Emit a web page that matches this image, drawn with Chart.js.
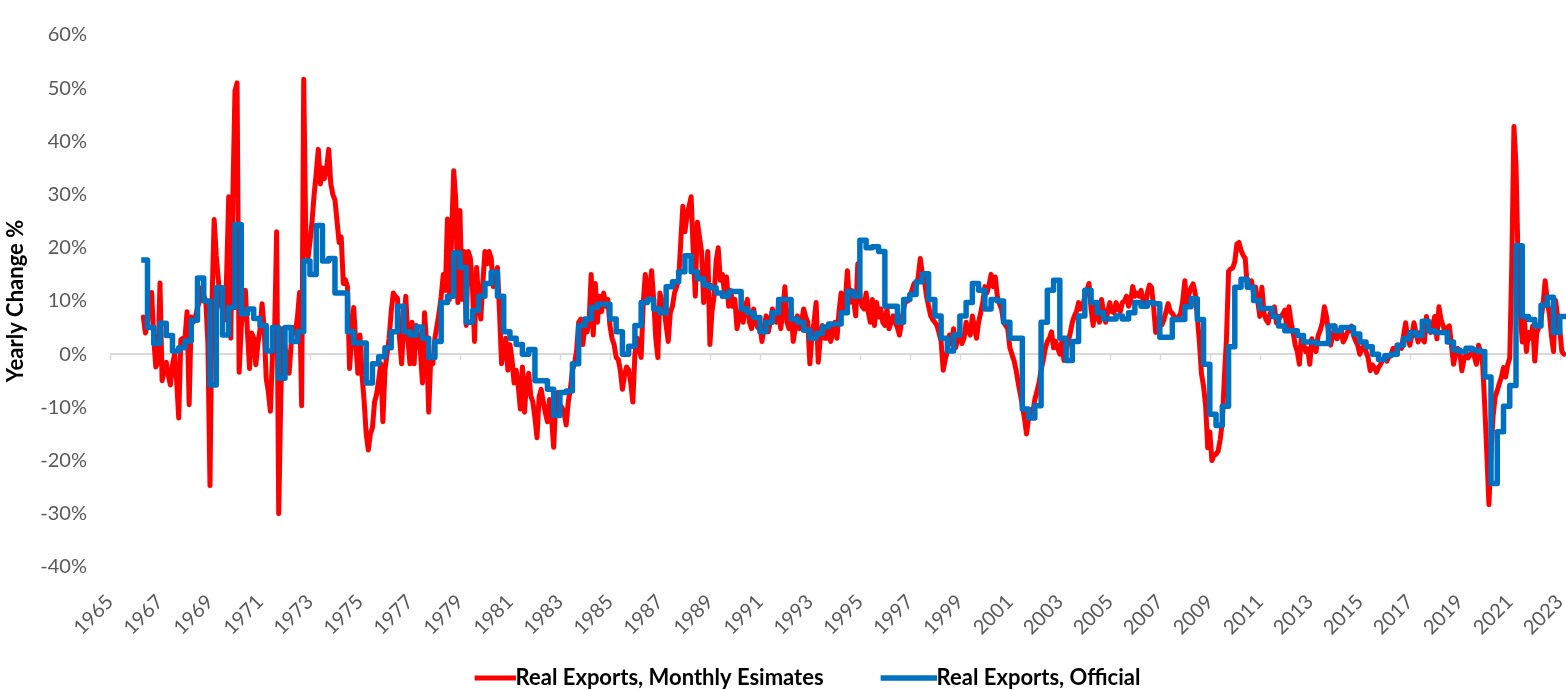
<!DOCTYPE html>
<html>
<head>
<meta charset="utf-8">
<script src="https://cdn.jsdelivr.net/npm/chart.js@4.4.1/dist/chart.umd.min.js"></script>
<style>
html,body{margin:0;padding:0;background:#fff;}
#wrap{width:1566px;height:690px;position:relative;}
</style>
</head>
<body>
<div id="wrap"><canvas id="c"></canvas></div>
<script>
// ---------- DATA ----------
const seriesNames = ['Real Exports, Monthly Esimates', 'Real Exports, Official'];
const yAxisTitle = 'Yearly Change %';
const xTickYears = [1965,1967,1969,1971,1973,1975,1977,1979,1981,1983,1985,1987,1989,1991,1993,1995,1997,1999,2001,2003,2005,2007,2009,2011,2013,2015,2017,2019,2021,2023];
const yTickValues = [-40,-30,-20,-10,0,10,20,30,40,50,60];

// Monthly estimates (yoy %), first month = May 1966
const redStartYear = 1966, redStartMonth = 4;
const red1960s = [
  7, 4, 6, 10, 11.6, 3, -2.4, -1.5,
  13.4, -5, -3, -1.5, -4, -5.8, -2, 0, -5, -12, 2.7, 3,
  3, 8, -9.5, 7, 6, 7, 8.8, 10, 12.5, 11, 10, 2,
  -24.7, 10, 25.3, 18.6, 14, 10, 8.2, 6.4, 15, 29.6, 3, 30
];
const red1970s = [
  49.5, 51, -3.4, 5, 10, 12, 4, -2.7, 4, 3, -2, 2,
  4.6, 9.5, 5, -4.6, -7, -10.7, 0, 3.6, 23, -30, -8, 4.8,
  1, 0, -3.6, 2, 5, 4.2, 7, 11.6, -9.7, 51.7, 22, 18,
  21, 25, 30, 34, 38.5, 32, 35, 33, 35, 38.5, 32, 30,
  29, 25, 21, 22, 13.3, 14, 12.7, -2.7, 3, 8.8, 2, -3.6,
  3.6, -4, -8.8, -15, -18, -15, -13.8, -9, -7.5, -4.8, -1.8, -12.7,
  -3, 0, 3, 8, 11.5, 10.9, 10.5, 3, -1.8, 5.4, 10.9, 3,
  -1.8, 6, -1.8, 5.4, 3, 0.6, -5.4, 7.8, 2, -10.9, -0.6, -1.8,
  3, 5.4, 7.8, 10.9, 15, 12, 25.4, 10.3, 22, 34.5, 29, 9.7,
  27, 10.3, 19.3, 5.4, 19.3, 18, 12.7, 2.4, 16.3, 10, 6.6, 13.3
];
const red1980s = [
  19.3, 17, 19.3, 18, 12.7, 14, 16.3, 7.8, -1.8, 1, 3, -3,
  1.8, -1, -5.4, -3, -6, -10.3, -2.4, -10.9, -5, -3.6, -7.8, -9,
  -12, -15.7, -8, -6.6, -9, -11, -12.7, -8.5, -12, -17.5, -9, -7.2,
  -9.6, -10, -11, -13.3, -9, -6.6, -3, -1.8, 0.6, 6, 6.6, 1.8,
  5.4, 4.2, 6, 15, 3.6, 13.3, 6, 10.9, 8, 11.5, 9, 10.3,
  5.4, 3, 1.8, -0.6, -1, -3, -6.6, -4, -2.4, -3, -5.4, -9,
  0, 3, 1, -0.6, 9.7, 15, 10.3, 12, 15.7, 10.3, 3, -0.6,
  11.5, 10, 8.5, 5.4, 2.4, 7.8, 9, 11.5, 12.7, 14, 21, 27.8,
  23, 26, 27.8, 29.6, 19.3, 10.9, 24.8, 22, 19.3, 9.7, 13.9, 19.3,
  1.8, 8, 10.9, 17.5, 20, 13.9, 15, 11.5, 14.5, 9, 12, 9
];
const red1990s = [
  10.3, 4.8, 7, 8.5, 6, 9, 10.3, 6, 4.8, 8.5, 6, 5,
  5.4, 2.4, 5, 7.2, 4.2, 6, 8.5, 7, 6, 9.7, 4.8, 8,
  12.7, 6, 4.8, 8.5, 2.4, 5, 7.2, 4.8, 6, 8.5, 7, 6,
  -1.8, 3.6, 6, 9.7, -1.5, 3, 5.4, 3, 3, 5.4, 2.4, 4,
  6, 3, 8, 11.5, 8.5, 10, 15.7, 9.7, 12, 10, 7.2, 17,
  10.9, 9, 8.5, 11.5, 8, 6, 10.3, 5.4, 9.7, 7, 8.5, 6,
  5.4, 8.5, 4.8, 6, 7.2, 6, 5, 3.6, 6, 8.5, 10.3, 10,
  10.9, 12, 13.3, 12.7, 14.5, 18, 15, 13.9, 10.9, 9, 7.2, 6.5,
  6, 5.4, 4, 2.4, -3, -1, 0.6, 3.6, 2, 4.8, 1.2, 3,
  3.6, 2, 3, 6, 4.5, 3.6, 7.2, 5, 3, 6, 7.8, 9.7
];
const red2000s = [
  12.7, 11.5, 13, 15, 12.7, 14.5, 10.9, 9.5, 8.5, 6, 5.4, 4.8,
  1.2, 0, -1.2, -3, -5.4, -7.5, -9.7, -12, -15, -12, -10.9, -11,
  -8.5, -7, -5.4, -3, -1.2, 1, 2.4, 3, 4.2, 1.2, 2.4, 1,
  0, 2.4, -1.2, 0.5, 2.4, 4, 6, 7.2, 8, 9.7, 8.5, 9,
  10.9, 12, 13.3, 8.5, 5.4, 9.7, 7, 6, 10.3, 8, 6, 8,
  9.7, 8, 7.8, 9.7, 8.5, 8, 9.7, 10, 10.9, 9, 10, 12.7,
  10.9, 11.5, 10.9, 12, 10, 9, 11.5, 13, 12.6, 9, 4.1, 5,
  7.1, 5.5, 6.5, 8, 9.5, 8, 7.7, 7, 6.5, 7, 7.7, 10,
  13.8, 8.9, 11.4, 12.5, 13.2, 11.4, 7.1, 2.3, -3.7, -6, -9.8, -17.6,
  -14.6, -20, -19, -18.8, -18.2, -16, -12.8, -4.3, 2.9, 15.6, 16, 16.2
];
const red2010s = [
  17.4, 20.7, 21, 19.5, 18.6, 18, 12.6, 13, 13.8, 11.4, 12.6, 10,
  7.1, 12.6, 7.7, 6.5, 5.9, 7.7, 8, 8.9, 5.9, 6.5, 7.1, 7.5,
  8.3, 4.7, 8.9, 6, 4.1, 1.7, 0.5, -1.9, 3.5, 2, 0.5, 1,
  -1.9, 2.9, 1.5, 0.5, 3.5, 4.5, 5.9, 8.9, 7.1, 4, 1.7, 3.5,
  5.3, 2.9, 3.5, 4.7, 2.3, 3, 4.1, 4.5, 5.3, 3.5, 2.5, 1.7,
  0, 1, 1.7, 0.5, -0.7, -3.1, -2, -2.5, -3.4, -2.5, -1.9, -1,
  -0.7, -1.3, -0.5, 0, 1.1, 0.5, 1.7, 1.5, 1.1, 3.5, 5.9, 3,
  1.7, 3.5, 5.9, 4, 2.3, 4.1, 3, 2.3, 7.1, 5, 4.1, 5.5,
  7.1, 2.9, 8.9, 6.5, 5.3, 4.1, 5, 5.3, 1.7, -1.9, 0, 1.1,
  0.5, -3.1, -1, -0.1, -0.7, 0, 0.5, -0.5, -1.9, 1.7, 0.5, -1.9
];
const red2020s = [
  -9.8, -18.8, -28.3, -18.8, -11.6, -8, -6.8, -5.5, -4.3, -2.5, -4.3, -2,
  -0.7, 17.4, 42.8, 35.5, 17.4, 8.3, 2.3, 6.5, 0.5, 4.1, 3, 5.3,
  -1.3, 4.1, 5, 6.5, 9.5, 13.8, 10, 7.7, 3.5, 0.5, 10.1, 7,
  4.7, 0.5, 0
];

// Official quarterly (yoy %), first quarter = Q2 1966
const blueStartYear = 1966, blueStartQuarter = 1;
const blue1960s = [17.7, 5, 2,  5.8, 3.5, 0.6, 1.2,  2.5, 6.4, 14.3, 10,  -5.8, 12.5, 3.6, 8.8];
const blue1970s = [24.4, 7.6, 8.5, 6.7,  5.4, 0.6, 5, -4.5,  5, 2.4, 4.2, 17.5,  15, 24.2, 17.5, 18,
  11.5, 11.5, 4.2, 2.1,  2.1, -5.4, -1.8, -0.5,  1.2, 4.2, 9, 4.2,  3.6, 5.1, 3, -0.6,
  2.4, 9.7, 10.9, 19,  16.3, 6, 8.2, 10.9];
const blue1980s = [13.3, 15.4, 10.9, 4.2,  3, 1.8, 0, 0.9,  -5, -5, -6.6, -11.5,  -7.2, -6.9, -1.8, 5.4,
  6.6, 8.8, 9.4, 9.4,  6.6, 4.2, 0, 1.5,  5.4, 9.7, 10.3, 8.5,  7.8, 12.7, 13.6, 15.5,
  18.5, 15.5, 14.2, 13,  12.5, 11.5, 10.9, 11.8];
const blue1990s = [11.8, 8.5, 7.8, 6.9,  4.2, 6, 7.8, 10.3,  10.3, 6.6, 6, 4.5,  3, 3.9, 5.1, 5.7,
  5.7, 7.8, 11.8, 10.9,  21.4, 20, 20.2, 19.3,  9, 9, 6, 10.3,  11.2, 13.6, 15.1, 10.3,
  7.2, 3, 0.6, 3.6,  7.2, 9.7, 13.3, 12];
const blue2000s = [8.5, 10.3, 10, 6,  3, 3, -10.3, -12,  -9.7, 6, 12, 13.9,  3, -1.2, 2.4, 7.2,
  12, 9.7, 7.8, 6.6,  6.6, 7.2, 6.6, 7.8,  9.7, 9, 9.7, 9.5,  3.2, 3.2, 6.5, 6.5,
  8.9, 10.4, 6.5, -1.9,  -11.3, -13.4, -9.8, 1.4];
const blue2010s = [12.6, 14.1, 12.6, 10.1,  8.6, 8.6, 7.1, 5.3,  4.4, 4.4, 3.5, 2.3,  2.3, 2, 2, 5.3,
  4.4, 5, 5, 3.8,  2.3, 1.4, 0, -1,  -0.3, 0, 1.7, 2.9,  4.1, 3.5, 6.2, 4.4,
  4.1, 4.1, 2.3, 0.8,  0.5, 1.1, 0.8, 0.5];
const blue2020s = [-4.3, -24.3, -14.6, -9.8,  -5.9, 20.4, 7.1, 6.5,  5.3, 9.2, 10.7, 4.1,  7.1];

// ---------- BUILD ----------
const redValues = [].concat(red1960s, red1970s, red1980s, red1990s, red2000s, red2010s, red2020s);
const blueValues = [].concat(blue1960s, blue1970s, blue1980s, blue1990s, blue2000s, blue2010s, blue2020s);
const redPoints = redValues.map((v, i) => ({ x: redStartYear + (redStartMonth + i) / 12, y: v }));
const bluePoints = blueValues.map((v, i) => ({ x: blueStartYear + (blueStartQuarter + i) / 4, y: v }));
// close the last quarterly step at the end of that quarter
bluePoints.push({ x: blueStartYear + (blueStartQuarter + blueValues.length) / 4, y: blueValues[blueValues.length - 1] });
const xMax = blueStartYear + (blueStartQuarter + blueValues.length) / 4;

const FONT = 'Lato, "Open Sans", sans-serif';
const GRAY = '#595959';
const AXIS_GRAY = '#D9D9D9';
const RED = '#FF0000';
const BLUE = '#0070C0';
const LEGEND_FONT_SIZE = 22;
const LEGEND_BOX = 40;

// legend key: a line that ends right where the label text begins (Excel style)
function legendKey(color, lineLen, lineWidth) {
  const w = LEGEND_BOX + LEGEND_FONT_SIZE; // image centred on the key box, right edge = text start
  const c = document.createElement('canvas');
  c.width = w; c.height = 10;
  const g = c.getContext('2d');
  g.strokeStyle = color; g.lineWidth = lineWidth; g.lineCap = 'butt';
  g.beginPath(); g.moveTo(w - lineLen, 5); g.lineTo(w, 5); g.stroke();
  return c;
}

const zeroAxisTicks = {
  id: 'zeroAxisTicks',
  beforeDatasetsDraw(chart) {
    const { ctx, scales: { x, y } } = chart;
    const y0 = y.getPixelForValue(0);
    ctx.save();
    ctx.strokeStyle = AXIS_GRAY;
    ctx.lineWidth = 1.5;
    xTickYears.forEach(v => {
      const px = Math.round(x.getPixelForValue(v)) + 0.5;
      ctx.beginPath();
      ctx.moveTo(px, y0);
      ctx.lineTo(px, y0 + 6);
      ctx.stroke();
    });
    ctx.restore();
  }
};

// let tick labels overflow their axis boxes (the boxes are sized to the reference layout)
const noLabelClip = {
  id: 'noLabelClip',
  afterLayout(chart) {
    Object.values(chart.scales).forEach(s => { s._computeLabelArea = () => undefined; });
  }
};

new Chart(document.getElementById('c'), {
  type: 'line',
  data: {
    datasets: [
      {
        label: seriesNames[1],
        data: bluePoints,
        borderColor: BLUE,
        backgroundColor: BLUE,
        borderWidth: 5.5,
        stepped: true,
        pointRadius: 0,
        pointStyle: legendKey(BLUE, 56, 5.5),
        borderJoinStyle: 'round',
        borderCapStyle: 'butt',
        fill: false
      },
      {
        label: seriesNames[0],
        data: redPoints,
        borderColor: RED,
        backgroundColor: RED,
        borderWidth: 5,
        pointRadius: 0,
        pointStyle: legendKey(RED, 41, 5),
        tension: 0,
        borderJoinStyle: 'round',
        borderCapStyle: 'round',
        fill: false
      }
    ]
  },
  options: {
    responsive: true,
    maintainAspectRatio: false,
    animation: false,
    devicePixelRatio: 1,
    layout: { padding: { left: 39, right: 0, top: 15, bottom: -9 } },
    plugins: {
      tooltip: { enabled: false },
      legend: {
        position: 'bottom',
        reverse: true,
        labels: {
          usePointStyle: true,
          pointStyleWidth: LEGEND_BOX,
          padding: 62,
          color: '#000',
          font: { family: FONT, size: LEGEND_FONT_SIZE, weight: 'bold' }
        }
      }
    },
    scales: {
      x: {
        type: 'linear',
        min: 1965,
        max: xMax,
        grid: { display: false, drawTicks: false },
        border: { display: false },
        afterBuildTicks: s => { s.ticks = xTickYears.map(v => ({ value: v })); },
        afterFit: s => { s.height = 38; s.paddingRight = 0; s.paddingLeft = 0; },
        ticks: {
          autoSkip: false,
          minRotation: 45,
          maxRotation: 45,
          padding: 23,
          color: GRAY,
          font: { family: FONT, size: 20 },
          callback: v => String(v)
        }
      },
      y: {
        min: -40,
        max: 60,
        afterBuildTicks: s => { s.ticks = yTickValues.map(v => ({ value: v })); },
        afterFit: s => { s.width = 71; },
        grid: {
          drawTicks: false,
          lineWidth: 2,
          color: c => (c.tick && c.tick.value === 0) ? AXIS_GRAY : 'rgba(0,0,0,0)'
        },
        border: { display: false },
        ticks: {
          padding: 23,
          color: GRAY,
          font: { family: FONT, size: 20 },
          callback: v => v + '%'
        },
        title: {
          display: true,
          text: yAxisTitle,
          color: '#000',
          font: { family: FONT, size: 22, weight: 'bold' },
          padding: { top: -36.5, bottom: 0 }
        }
      }
    }
  },
  plugins: [zeroAxisTicks, noLabelClip]
});
</script>
</body>
</html>
